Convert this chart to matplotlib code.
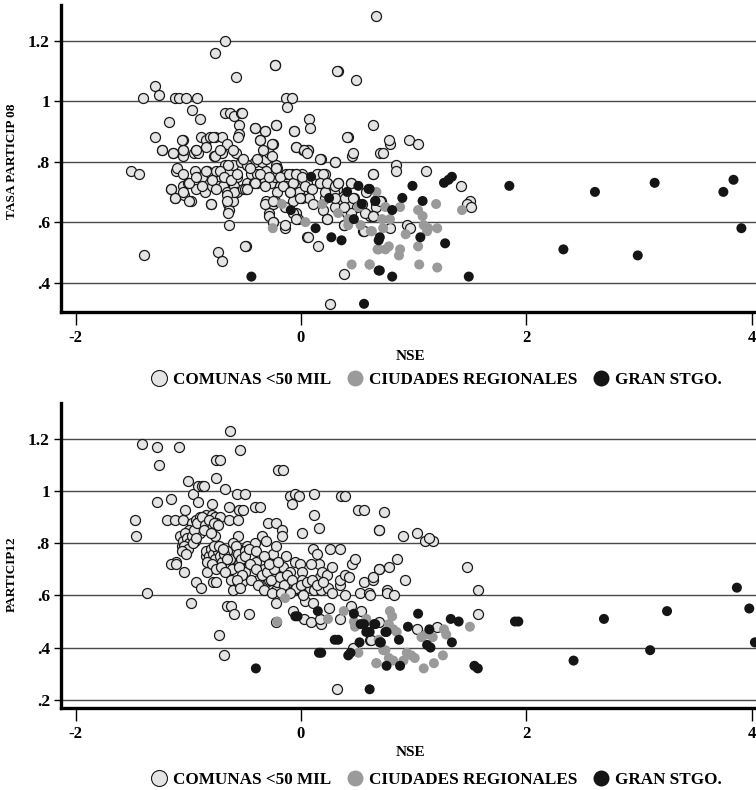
import numpy as np
import matplotlib

matplotlib.use('Agg')
import matplotlib.pyplot as plt
from matplotlib.lines import Line2D

plt.rcParams['font.family'] = ['Liberation Serif', 'DejaVu Serif']
plt.rcParams['font.weight'] = 'bold'

# ---------------- datos: panel superior (TASA PARTICIP 08) ----------------
comunas_08 = [
    (-1.51, 0.77), (-1.44, 0.76), (-1.40, 1.01), (-1.39, 0.49), (-1.30, 1.05), (-1.26, 1.02),
    (-1.30, 0.88), (-1.23, 0.84), (-1.17, 0.93), (-1.14, 0.83), (-1.15, 0.71), (-1.12, 0.68),
    (-1.12, 1.01), (-1.08, 1.01), (-1.02, 1.01), (-0.92, 1.01), (-0.97, 0.97), (-0.90, 0.94),
    (-1.11, 0.77), (-1.05, 0.82), (-1.05, 0.84), (-1.05, 0.87), (-1.04, 0.69), (-1.05, 0.72),
    (-1.00, 0.73), (-0.95, 0.83), (-0.93, 0.84), (-0.91, 0.83), (-0.94, 0.77), (-0.92, 0.75),
    (-0.93, 0.71), (-0.98, 0.67), (-0.89, 0.88), (-0.84, 0.87), (-0.81, 0.88), (-0.76, 0.88),
    (-0.70, 0.88), (-0.66, 0.86), (-0.88, 0.75), (-0.85, 0.70), (-0.83, 0.77), (-0.80, 0.76),
    (-0.79, 0.72), (-0.80, 0.66), (-0.77, 0.82), (-0.73, 0.83), (-0.70, 0.83), (-0.75, 0.77),
    (-0.72, 0.74), (-0.74, 0.72), (-0.67, 0.79), (-0.64, 0.77), (-0.65, 0.74), (-0.69, 0.72),
    (-0.66, 0.70), (-0.63, 0.68), (-0.65, 0.66), (-0.64, 0.64), (-0.64, 0.59), (-0.67, 0.96),
    (-0.63, 0.96), (-0.59, 0.95), (-0.53, 0.96), (-0.55, 0.92), (-0.55, 0.89), (-0.58, 0.83),
    (-0.60, 0.79), (-0.57, 0.75), (-0.59, 0.72), (-0.57, 0.70), (-0.60, 0.67), (-0.53, 0.80),
    (-0.48, 0.79), (-0.48, 0.73), (-0.49, 0.71), (-0.44, 0.76), (-0.41, 0.80), (-0.42, 0.73),
    (-0.39, 0.76), (-0.39, 0.73), (-0.41, 0.91), (-0.32, 0.90), (-0.36, 0.87), (-0.33, 0.83),
    (-0.35, 0.80), (-0.31, 0.81), (-0.28, 0.83), (-0.25, 0.86), (-0.31, 0.77), (-0.32, 0.74),
    (-0.27, 0.73), (-0.31, 0.67), (-0.25, 0.66), (-0.28, 0.63), (-0.25, 0.60), (-0.22, 0.79),
    (-0.21, 0.78), (-0.23, 0.75), (-0.19, 0.72), (-0.21, 0.70), (-0.23, 0.67), (-0.13, 0.76),
    (-0.08, 0.76), (-0.04, 0.76), (0.01, 0.76), (-0.13, 0.72), (-0.10, 0.70), (-0.07, 0.67),
    (-0.14, 0.58), (-0.13, 1.01), (-0.08, 1.01), (-0.12, 0.98), (-0.22, 0.92), (-0.23, 1.12),
    (-0.06, 0.90), (-0.04, 0.85), (0.02, 0.84), (0.06, 0.84), (0.07, 0.94), (0.08, 0.91),
    (-0.05, 0.72), (-0.02, 0.70), (0.01, 0.68), (-0.04, 0.63), (-0.03, 0.61), (0.05, 0.73),
    (0.09, 0.71), (0.07, 0.68), (0.11, 0.66), (0.15, 0.76), (0.17, 0.73), (0.18, 0.81),
    (0.21, 0.76), (0.23, 0.73), (0.21, 0.68), (0.20, 0.64), (0.23, 0.61), (0.30, 0.80),
    (0.33, 0.73), (0.32, 0.71), (0.29, 0.70), (0.33, 0.67), (0.30, 0.65), (0.38, 0.59),
    (0.05, 0.55), (0.15, 0.52), (0.26, 0.33), (0.33, 1.10), (0.49, 1.07), (0.42, 0.88),
    (0.45, 0.82), (0.44, 0.73), (0.47, 0.68), (0.41, 0.63), (0.45, 0.66), (0.38, 0.43),
    (0.58, 0.70), (0.64, 0.92), (0.64, 0.76), (0.61, 0.62), (0.67, 0.66), (0.54, 0.66),
    (0.55, 0.57), (0.67, 1.28), (0.70, 0.83), (-0.49, 0.52), (-0.74, 0.50), (-0.70, 0.47),
    (-0.76, 1.16), (-0.67, 1.20), (-0.58, 1.08), (-0.52, 0.96),
    (0.79, 0.86), (0.73, 0.83), (0.96, 0.87), (1.04, 0.86), (0.84, 0.79), (0.84, 0.77),
    (1.11, 0.77), (0.71, 0.67), (0.67, 0.65), (0.64, 0.62), (0.79, 0.58), (0.94, 0.59),
    (0.97, 0.58), (1.42, 0.72), (1.50, 0.67), (1.47, 0.66), (1.51, 0.65),
    (-1.10, 0.78), (-1.05, 0.76), (-0.99, 0.73), (-0.93, 0.75), (-0.88, 0.72), (-0.84, 0.77),
    (-0.79, 0.74), (-0.75, 0.71), (-0.72, 0.77), (-0.68, 0.75), (-0.65, 0.79), (-0.62, 0.74),
    (-0.57, 0.76), (-0.59, 0.70), (-0.66, 0.69), (-0.76, 0.82), (-0.72, 0.84), (-0.78, 0.88),
    (-0.84, 0.85), (-0.93, 0.84), (-1.05, 0.84), (-1.14, 0.83), (-1.23, 0.84), (-1.06, 0.87),
    (-0.60, 0.84), (-0.56, 0.88), (-0.48, 0.79), (-0.51, 0.71), (-0.66, 0.67), (-0.65, 0.63),
    (-1.15, 0.71), (-1.12, 0.68), (-1.05, 0.70), (-0.99, 0.67), (-0.80, 0.66), (-0.50, 0.71),
    (-0.51, 0.81), (-0.45, 0.78), (-0.39, 0.81), (-0.36, 0.76), (-0.41, 0.73), (-0.48, 0.71),
    (-0.32, 0.72), (-0.28, 0.75), (-0.22, 0.78), (-0.19, 0.75), (-0.16, 0.72), (-0.11, 0.76),
    (-0.07, 0.73), (-0.10, 0.70), (-0.04, 0.76), (0.01, 0.75), (0.04, 0.72), (-0.01, 0.68),
    (0.10, 0.71), (0.14, 0.76), (0.20, 0.76), (0.17, 0.73), (0.21, 0.70), (0.23, 0.73),
    (0.30, 0.72), (0.33, 0.73), (0.30, 0.68), (0.39, 0.68), (0.44, 0.73), (0.46, 0.68),
    (0.50, 0.65), (0.57, 0.63), (0.44, 0.63), (0.38, 0.65), (0.64, 0.62), (0.70, 0.67),
    (-0.32, 0.66), (-0.25, 0.67), (-0.28, 0.62), (-0.25, 0.60), (-0.14, 0.65), (-0.07, 0.63),
    (-0.04, 0.61), (-0.14, 0.59), (0.23, 0.61), (0.38, 0.59), (0.56, 0.57), (0.06, 0.55),
    (0.64, 0.76), (0.78, 0.87), (0.46, 0.83), (0.41, 0.88), (0.30, 0.80), (0.17, 0.81),
    (0.06, 0.84), (-0.04, 0.85), (0.03, 0.84), (0.05, 0.83), (-0.06, 0.90), (-0.22, 0.92),
    (-0.32, 0.90), (-0.41, 0.91), (-0.36, 0.87), (-0.26, 0.86), (-0.34, 0.84), (-0.26, 0.82),
    (-0.50, 0.52), (-0.23, 1.12), (0.32, 1.10),
]
ciudades_08 = [
    (-0.17, 0.66), (-0.25, 0.58), (0.04, 0.60), (0.19, 0.66), (0.33, 0.63), (0.42, 0.61),
    (0.42, 0.59), (0.53, 0.59), (0.62, 0.57), (0.45, 0.46), (0.61, 0.46), (0.68, 0.51),
    (0.51, 0.65), (0.67, 0.70), (0.75, 0.65), (0.88, 0.65), (0.72, 0.61), (0.79, 0.61),
    (0.73, 0.58), (0.63, 0.57), (0.69, 0.51), (0.75, 0.51), (0.78, 0.52), (0.88, 0.51),
    (0.87, 0.49), (0.93, 0.56), (1.04, 0.64), (1.08, 0.62), (1.20, 0.66), (1.09, 0.59),
    (1.13, 0.58), (1.12, 0.57), (1.21, 0.58), (1.04, 0.52), (1.05, 0.46), (1.21, 0.45),
    (1.43, 0.64), (0.61, 0.46),
]
gran_stgo_08 = [
    (-0.44, 0.42), (0.09, 0.75), (-0.09, 0.64), (0.13, 0.58), (0.27, 0.55), (0.25, 0.68),
    (0.36, 0.54), (0.41, 0.70), (0.51, 0.72), (0.60, 0.71), (0.54, 0.66), (0.66, 0.67),
    (0.47, 0.61), (0.69, 0.54), (0.69, 0.44), (0.56, 0.33), (0.61, 0.71), (0.99, 0.72),
    (0.66, 0.67), (0.90, 0.68), (0.81, 0.64), (1.08, 0.67), (0.70, 0.55), (1.06, 0.55),
    (1.28, 0.53), (0.70, 0.44), (0.81, 0.42), (1.49, 0.42), (1.27, 0.73), (1.31, 0.74),
    (1.34, 0.75), (1.85, 0.72), (2.61, 0.70), (3.14, 0.73), (3.75, 0.70), (3.84, 0.74),
    (3.91, 0.58), (2.33, 0.51), (2.99, 0.49),
]

# ---------------- datos: panel inferior (PARTICIP12) ----------------
comunas_12 = [
    (-1.47, 0.89), (-1.46, 0.83), (-1.37, 0.61), (-1.41, 1.18), (-1.28, 1.17), (-1.26, 1.10),
    (-1.08, 1.17), (-1.28, 0.96), (-1.15, 0.97), (-1.19, 0.89), (-1.12, 0.89), (-1.05, 0.89),
    (-1.03, 0.93), (-1.00, 1.04), (-0.96, 0.99), (-0.91, 1.02), (-0.88, 1.02), (-0.86, 1.02),
    (-0.91, 0.96), (-0.97, 0.88), (-0.93, 0.89), (-0.90, 0.90), (-0.84, 0.91), (-0.79, 0.91),
    (-0.76, 0.90), (-0.72, 0.90), (-0.79, 0.95), (-0.75, 1.05), (-0.75, 1.12), (-0.72, 1.12),
    (-0.67, 1.01), (-0.63, 1.23), (-0.54, 1.16), (-0.64, 0.94), (-0.57, 0.99), (-0.50, 0.99),
    (-0.55, 0.93), (-0.51, 0.93), (-0.41, 0.94), (-0.36, 0.94), (-0.64, 0.89), (-0.56, 0.89),
    (-0.56, 0.83), (-0.48, 0.79), (-0.60, 0.80), (-1.11, 0.73), (-1.15, 0.72), (-1.11, 0.72),
    (-1.04, 0.69), (-0.93, 0.65), (-0.89, 0.63), (-0.98, 0.57), (-1.06, 0.79), (-0.99, 0.85),
    (-1.02, 0.83), (-1.02, 0.80), (-0.97, 0.80), (-0.94, 0.81), (-0.90, 0.84), (-0.82, 0.86),
    (-0.75, 0.88), (-0.76, 0.83), (-0.84, 0.75), (-0.81, 0.72), (-0.83, 0.69), (-0.78, 0.65),
    (-0.75, 0.65), (-0.78, 0.76), (-0.72, 0.78), (-0.70, 0.75), (-0.72, 0.72), (-0.66, 0.77),
    (-0.63, 0.74), (-0.61, 0.70), (-0.62, 0.66), (-0.60, 0.62), (-0.56, 0.65), (-0.52, 0.65),
    (-0.55, 0.72), (-0.50, 0.69), (-0.43, 0.72), (-0.66, 0.56), (-0.62, 0.56), (-0.59, 0.53),
    (-0.46, 0.53), (-0.73, 0.45), (-0.68, 0.37), (-0.40, 0.73), (-0.41, 0.80), (-0.35, 0.83),
    (-0.31, 0.81), (-0.29, 0.88), (-0.22, 0.88), (-0.17, 0.85), (-0.17, 0.83), (-0.38, 0.66),
    (-0.33, 0.70), (-0.29, 0.74), (-0.25, 0.76), (-0.22, 0.79), (-0.31, 0.63), (-0.26, 0.62),
    (-0.22, 0.62), (-0.28, 0.66), (-0.21, 0.65), (-0.17, 0.68), (-0.16, 0.71), (-0.13, 0.75),
    (-0.10, 0.69), (-0.11, 0.66), (-0.07, 0.64), (-0.12, 0.61), (-0.06, 0.62), (-0.01, 0.62),
    (-0.05, 0.73), (-0.01, 0.72), (0.01, 0.69), (0.01, 0.66), (0.01, 0.84), (-0.10, 0.98),
    (-0.05, 0.99), (-0.02, 0.98), (-0.08, 0.95), (-0.20, 1.08), (-0.16, 1.08), (-0.22, 0.57),
    (-0.07, 0.54), (-0.22, 0.50), (0.03, 0.51), (0.09, 0.50), (0.04, 0.58), (0.11, 0.57),
    (0.18, 0.49), (0.17, 0.51), (0.12, 0.99), (0.12, 0.91), (0.16, 0.86), (0.11, 0.78),
    (0.14, 0.76), (0.16, 0.72), (0.09, 0.72), (0.08, 0.63), (0.12, 0.62), (0.17, 0.67),
    (0.19, 0.69), (0.23, 0.68), (0.18, 0.62), (0.24, 0.63), (0.28, 0.71), (0.26, 0.78),
    (0.25, 0.55), (0.28, 0.61), (0.35, 0.64), (0.35, 0.78), (0.36, 0.98), (0.39, 0.98),
    (0.35, 0.66), (0.39, 0.68), (0.39, 0.60), (0.43, 0.67), (0.45, 0.72), (0.48, 0.74),
    (0.51, 0.93), (0.56, 0.93), (0.52, 0.61), (0.56, 0.65), (0.60, 0.61), (0.64, 0.66),
    (0.69, 0.85), (0.69, 0.70), (0.44, 0.56), (0.53, 0.54), (0.35, 0.51), (0.46, 0.40),
    (0.61, 0.43), (0.32, 0.24),
    (0.74, 0.92), (0.69, 0.85), (0.91, 0.83), (1.03, 0.84), (1.10, 0.81), (1.17, 0.81),
    (1.14, 0.82), (0.85, 0.74), (0.69, 0.70), (0.78, 0.71), (0.64, 0.67), (0.92, 0.66),
    (1.47, 0.71), (0.76, 0.62), (0.76, 0.61), (0.83, 0.60), (0.61, 0.60), (1.57, 0.62),
    (1.57, 0.53), (0.69, 0.50), (1.03, 0.47), (1.21, 0.48), (0.62, 0.43),
    (-1.07, 0.83), (-1.05, 0.81), (-1.03, 0.84), (-1.01, 0.82), (-0.99, 0.80), (-0.97, 0.83),
    (-0.95, 0.85), (-1.04, 0.79), (-1.00, 0.78), (-0.96, 0.80), (-0.93, 0.82), (-1.06, 0.77),
    (-1.02, 0.76), (-0.92, 0.88), (-0.88, 0.90), (-0.85, 0.87), (-0.82, 0.89), (-0.79, 0.86),
    (-0.77, 0.88), (-0.74, 0.87), (-0.86, 0.85), (-0.80, 0.84), (-0.84, 0.77), (-0.82, 0.75),
    (-0.80, 0.78), (-0.78, 0.76), (-0.76, 0.74), (-0.74, 0.77), (-0.72, 0.75), (-0.70, 0.73),
    (-0.68, 0.76), (-0.66, 0.74), (-0.83, 0.73), (-0.79, 0.72), (-0.75, 0.70), (-0.71, 0.71),
    (-0.67, 0.69), (-0.77, 0.79), (-0.73, 0.79), (-0.69, 0.78), (-0.58, 0.79), (-0.56, 0.76),
    (-0.53, 0.74), (-0.55, 0.71), (-0.52, 0.68), (-0.57, 0.66), (-0.54, 0.63), (-0.50, 0.77),
    (-0.50, 0.75), (-0.45, 0.72), (-0.40, 0.70), (-0.35, 0.68), (-0.30, 0.69), (-0.27, 0.66),
    (-0.24, 0.70), (-0.19, 0.67), (-0.15, 0.64), (-0.12, 0.68), (-0.08, 0.66), (-0.04, 0.63),
    (0.00, 0.64), (0.05, 0.65), (0.10, 0.66), (0.14, 0.64), (0.20, 0.65), (-0.46, 0.78),
    (-0.40, 0.77), (-0.33, 0.75), (-0.28, 0.72), (-0.20, 0.73), (-0.44, 0.66), (-0.38, 0.64),
    (-0.33, 0.62), (-0.26, 0.61), (-0.18, 0.61), (-0.10, 0.61), (0.02, 0.60),
]
ciudades_12 = [
    (-0.21, 0.50), (-0.14, 0.59), (0.24, 0.51), (0.38, 0.54), (0.47, 0.50), (0.48, 0.48),
    (0.58, 0.51), (0.51, 0.38), (0.67, 0.34), (0.70, 0.42), (0.79, 0.54), (0.81, 0.52),
    (0.78, 0.49), (0.82, 0.47), (0.85, 0.46), (0.69, 0.43), (0.73, 0.39), (0.75, 0.39),
    (0.67, 0.34), (0.78, 0.36), (0.82, 0.35), (0.91, 0.35), (0.94, 0.38), (0.98, 0.37),
    (1.01, 0.36), (1.09, 0.32), (1.18, 0.34), (1.26, 0.37), (1.07, 0.44), (1.11, 0.45),
    (1.17, 0.44), (1.27, 0.47), (1.29, 0.45), (1.50, 0.48),
]
gran_stgo_12 = [
    (-0.40, 0.32), (-0.05, 0.52), (-0.03, 0.52), (0.15, 0.54), (0.16, 0.38), (0.18, 0.38),
    (0.30, 0.43), (0.33, 0.43), (0.42, 0.37), (0.44, 0.38), (0.52, 0.42), (0.47, 0.53),
    (0.53, 0.49), (0.56, 0.49), (0.58, 0.46), (0.61, 0.46), (0.66, 0.49), (0.70, 0.42),
    (0.61, 0.24), (0.65, 0.49), (0.75, 0.46), (0.76, 0.46), (0.71, 0.42), (0.87, 0.43),
    (0.95, 0.48), (1.04, 0.53), (1.14, 0.47), (1.12, 0.41), (1.15, 0.40), (1.33, 0.51),
    (1.40, 0.50), (1.34, 0.42), (0.76, 0.33), (0.88, 0.33), (1.54, 0.33), (1.57, 0.32),
    (1.90, 0.50), (1.93, 0.50), (2.42, 0.35), (2.69, 0.51), (3.10, 0.39), (3.25, 0.54),
    (3.87, 0.63), (3.98, 0.55), (4.03, 0.42),
]

x_ticks = [-2, 0, 2, 4]
x_ticklabels = ['-2', '0', '2', '4']
y_ticks_08 = [0.4, 0.6, 0.8, 1.0, 1.2]
y_ticklabels_08 = ['.4', '.6', '.8', '1', '1.2']
y_ticks_12 = [0.2, 0.4, 0.6, 0.8, 1.0, 1.2]
y_ticklabels_12 = ['.2', '.4', '.6', '.8', '1', '1.2']

# estilos
col_comunas = '#e4e4e4'
col_ciudades = '#9a9a9a'
col_stgo = '#151515'
ms = 52


def draw_panel(ax, comunas, ciudades, stgo, yticks, yticklabels, ylim, ylabel, ylabel_y):
    for yt in yticks:
        ax.axhline(yt, color='#4a4a4a', lw=1.0, zorder=0)
    c = np.array(comunas)
    g = np.array(ciudades)
    s = np.array(stgo)
    ax.scatter(c[:, 0], c[:, 1], s=ms, facecolor=col_comunas, edgecolor='#1a1a1a', linewidth=0.9, zorder=2)
    ax.scatter(g[:, 0], g[:, 1], s=ms, facecolor=col_ciudades, edgecolor='none', zorder=3)
    ax.scatter(s[:, 0], s[:, 1], s=ms, facecolor=col_stgo, edgecolor='none', zorder=4)

    ax.set_xlim(-2.13, 4.08)
    ax.set_ylim(*ylim)
    ax.set_xticks(x_ticks)
    ax.set_xticklabels(x_ticklabels)
    ax.set_yticks(yticks)
    ax.set_yticklabels(yticklabels)
    ax.tick_params(axis='x', length=9, width=1.0, direction='out', pad=4, labelsize=12)
    ax.tick_params(axis='y', length=5, width=1.0, direction='out', pad=3, labelsize=12.5)
    for side in ['top', 'right']:
        ax.spines[side].set_visible(False)
    for side in ['left', 'bottom']:
        ax.spines[side].set_linewidth(2.4)
    ax.set_xlabel('NSE', fontsize=11, fontweight='bold', labelpad=3)
    ax.set_ylabel(ylabel, fontsize=9.5, fontweight='bold')
    ax.yaxis.set_label_coords(-0.062, ylabel_y)


fig = plt.figure(figsize=(7.56, 7.90), dpi=100)
ax1 = fig.add_axes([0.0807, 0.6051, 0.9253, 0.3886])
ax2 = fig.add_axes([0.0807, 0.1038, 0.9253, 0.3861])

draw_panel(ax1, comunas_08, ciudades_08, gran_stgo_08, y_ticks_08, y_ticklabels_08,
           (0.303, 1.318), 'TASA PARTICIP 08', 0.49)
draw_panel(ax2, comunas_12, ciudades_12, gran_stgo_12, y_ticks_12, y_ticklabels_12,
           (0.168, 1.339), 'PARTICIP12', 0.44)

handles = [
    Line2D([], [], marker='o', ls='none', markersize=11.5, markerfacecolor=col_comunas,
           markeredgecolor='#1a1a1a', markeredgewidth=0.8, label='COMUNAS <50 MIL'),
    Line2D([], [], marker='o', ls='none', markersize=11.5, markerfacecolor=col_ciudades,
           markeredgecolor='none', label='CIUDADES REGIONALES'),
    Line2D([], [], marker='o', ls='none', markersize=11.5, markerfacecolor=col_stgo,
           markeredgecolor='none', label='GRAN STGO.'),
]
for ypos in [1 - 380 / 790, 1 - 780 / 790]:
    fig.legend(handles=handles, loc='center', bbox_to_anchor=(0.577, ypos), ncol=3, frameon=False,
               handlelength=1.0, handletextpad=0.3, columnspacing=0.9,
               prop={'size': 12.3, 'weight': 'bold'})

fig.savefig('out.png', dpi=100)
